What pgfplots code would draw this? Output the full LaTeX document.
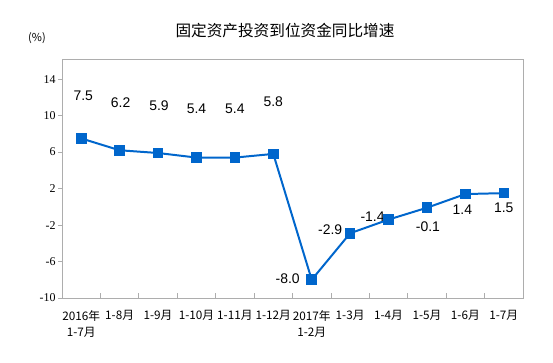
\documentclass[border=0pt]{standalone}
\usepackage{pgfplots}
\pgfplotsset{compat=1.18}
\usepackage{fontspec}
\setmainfont{Liberation Serif}
\newfontfamily\cjk{Noto Sans CJK SC}
\newfontfamily\arial{Liberation Sans}
\definecolor{lineblue}{HTML}{0066CC}
\definecolor{axgray}{HTML}{ADADAD}
\begin{document}
\begin{tikzpicture}[x=1bp,y=1bp]
\path (0,0) rectangle (553,362);
\node[font=\cjk\fontsize{15.7}{15.7}\selectfont] at (285,331) {固定资产投资到位资金同比增速};
\node[font=\cjk\fontsize{11}{11}\selectfont] at (37,324) {(\%)};
\begin{axis}[
  at={(62bp,64bp)}, anchor=south west,
  scale only axis, width=461bp, height=238bp,
  xmin=-0.5, xmax=11.5, ymin=-10, ymax=16.1,
  ytick={-10,-6,-2,2,6,10,14},
  xtick={0,...,11},
  minor xtick={0.5,1.5,...,10.5},
  xticklabels={{2016年\\1-7月},{1-8月},{1-9月},{1-10月},{1-11月},{1-12月},{2017年\\1-2月},{1-3月},{1-4月},{1-5月},{1-6月},{1-7月}},
  xtick pos=bottom, ytick pos=left,
  tick align=inside,
  major tick length=4bp, minor tick length=5bp,
  major x tick style={draw=none},
  minor x tick style={axgray, line width=0.8pt},
  y tick style={axgray, line width=0.8pt, xshift=-4bp},
  axis line style={axgray, line width=1pt},
  x tick label style={font=\cjk\fontsize{11.8}{16}\selectfont, align=center, anchor=north, yshift=-9bp},
  y tick label style={font=\fontsize{12}{12}\selectfont, xshift=-3bp},
  /pgf/number format/assume math mode=true,
  clip=false,
]
\addplot[lineblue, line width=2pt, mark=square*, mark size=4.3bp, mark options={solid, fill=lineblue}]
  coordinates {(0,7.5) (1,6.2) (2,5.9) (3,5.4) (4,5.4) (5,5.8) (6,-8.0) (7,-2.9) (8,-1.4) (9,-0.1) (10,1.4) (11,1.5)};
\begin{scope}[every node/.style={font=\arial\fontsize{14}{14}\selectfont}]
\node at ([xshift=2bp,yshift=43bp]axis cs:0,7.5) {7.5};
\node at ([xshift=1bp,yshift=48bp]axis cs:1,6.2) {6.2};
\node at ([xshift=1bp,yshift=47bp]axis cs:2,5.9) {5.9};
\node at ([xshift=0bp,yshift=49bp]axis cs:3,5.4) {5.4};
\node at ([xshift=0bp,yshift=49bp]axis cs:4,5.4) {5.4};
\node at ([xshift=0bp,yshift=52bp]axis cs:5,5.8) {5.8};
\node at ([xshift=-24bp,yshift=1bp]axis cs:6,-8.0) {-8.0};
\node at ([xshift=-20bp,yshift=4bp]axis cs:7,-2.9) {-2.9};
\node at ([xshift=-16bp,yshift=3bp]axis cs:8,-1.4) {-1.4};
\node at ([xshift=1bp,yshift=-19bp]axis cs:9,-0.1) {-0.1};
\node at ([xshift=-3bp,yshift=-16bp]axis cs:10,1.4) {1.4};
\node at ([xshift=0bp,yshift=-15bp]axis cs:11,1.5) {1.5};
\end{scope}
\end{axis}
\end{tikzpicture}
\end{document}
